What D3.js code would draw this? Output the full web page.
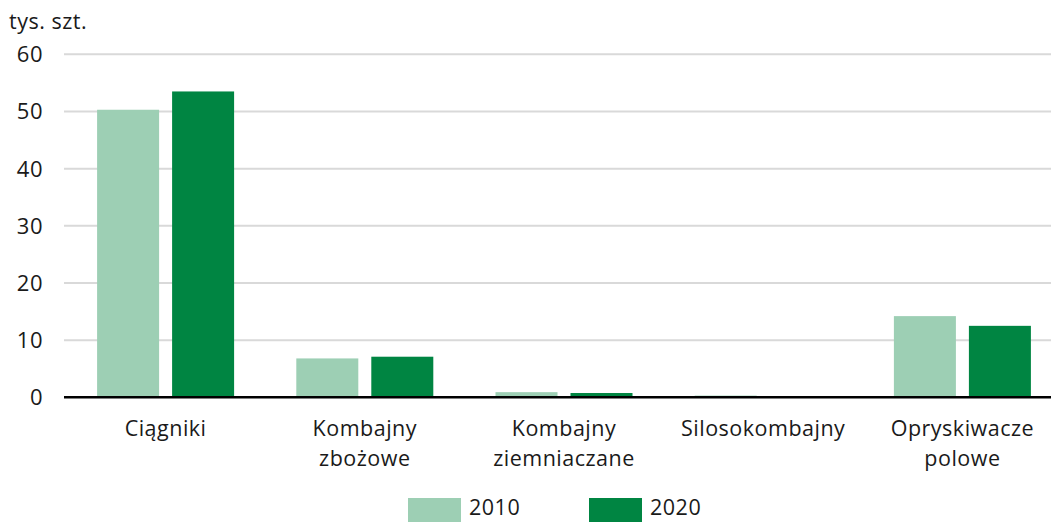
<!DOCTYPE html>
<html>
<head>
<meta charset="utf-8">
<script src="https://cdn.jsdelivr.net/npm/d3@7"></script>
<style>
  html, body { margin: 0; padding: 0; background: #fff; }
  svg { display: block; font-family: "Open Sans", "Noto Sans", sans-serif; }
</style>
</head>
<body>
<svg id="chart" width="1051" height="522"></svg>
<script>
const categories = [["Ciągniki"], ["Kombajny", "zbożowe"], ["Kombajny", "ziemniaczane"], ["Silosokombajny"], ["Opryskiwacze", "polowe"]];
const series = ["2010", "2020"];
const values2010 = [50.3, 6.8, 0.9, 0.3, 14.2];
const values2020 = [53.5, 7.1, 0.75, 0.02, 12.5];
const yTicks = [0, 10, 20, 30, 40, 50, 60];
const unitLabel = "tys. szt.";
const colors = ["#9dcfb4", "#008542"];

const svg = d3.select("#chart");
const x0 = d3.scaleBand().domain(d3.range(categories.length)).range([66, 1062]).paddingInner(0).paddingOuter(0);
const y = d3.scaleLinear().domain([0, 60]).range([397.3, 54.3]);
const barW = 62, gap = 13;
const x1 = d3.scaleOrdinal().domain(series).range([-(barW + gap / 2), gap / 2]);
const txt = "#1a1a1a";

// gridlines
svg.append("g").selectAll("line").data(yTicks.filter(d => d > 0)).join("line")
  .attr("x1", 64).attr("x2", 1051)
  .attr("y1", d => y(d)).attr("y2", d => y(d))
  .attr("stroke", "#d9d9d9").attr("stroke-width", 2);

// y labels
svg.append("g").selectAll("text").data(yTicks).join("text")
  .attr("x", 43).attr("y", d => y(d) + 8)
  .attr("text-anchor", "end").attr("font-size", 22).attr("letter-spacing", 0.5).attr("fill", txt)
  .text(d => d);

svg.append("text").attr("x", 9).attr("y", 29).attr("font-size", 21.5).attr("letter-spacing", 0.5).attr("fill", txt).text(unitLabel);

// bars
const data = [values2010, values2020];
series.forEach((s, si) => {
  svg.append("g").selectAll("rect").data(data[si]).join("rect")
    .attr("x", (d, i) => x0(i) + x0.bandwidth() / 2 + x1(s))
    .attr("width", barW)
    .attr("y", d => y(d))
    .attr("height", d => y(0) - y(d))
    .attr("fill", colors[si]);
});

// axis line
svg.append("line").attr("x1", 64).attr("x2", 1051).attr("y1", y(0)).attr("y2", y(0))
  .attr("stroke", "#000").attr("stroke-width", 2.5);

// category labels
const cl = svg.append("g").selectAll("text").data(categories).join("text")
  .attr("text-anchor", "middle").attr("font-size", 21.5).attr("letter-spacing", 0.5).attr("fill", txt);
cl.each(function(lines, i) {
  const t = d3.select(this);
  lines.forEach((l, li) => {
    t.append("tspan").attr("x", x0(i) + x0.bandwidth() / 2).attr("y", 436 + li * 30).text(l);
  });
});

// legend
const legX = [408, 589];
series.forEach((s, si) => {
  svg.append("rect").attr("x", legX[si]).attr("y", 498).attr("width", 53).attr("height", 24).attr("fill", colors[si]);
  svg.append("text").attr("x", legX[si] + 61).attr("y", 515).attr("font-size", 21.5).attr("letter-spacing", 0.5).attr("fill", txt).text(s);
});
</script>
</body>
</html>
